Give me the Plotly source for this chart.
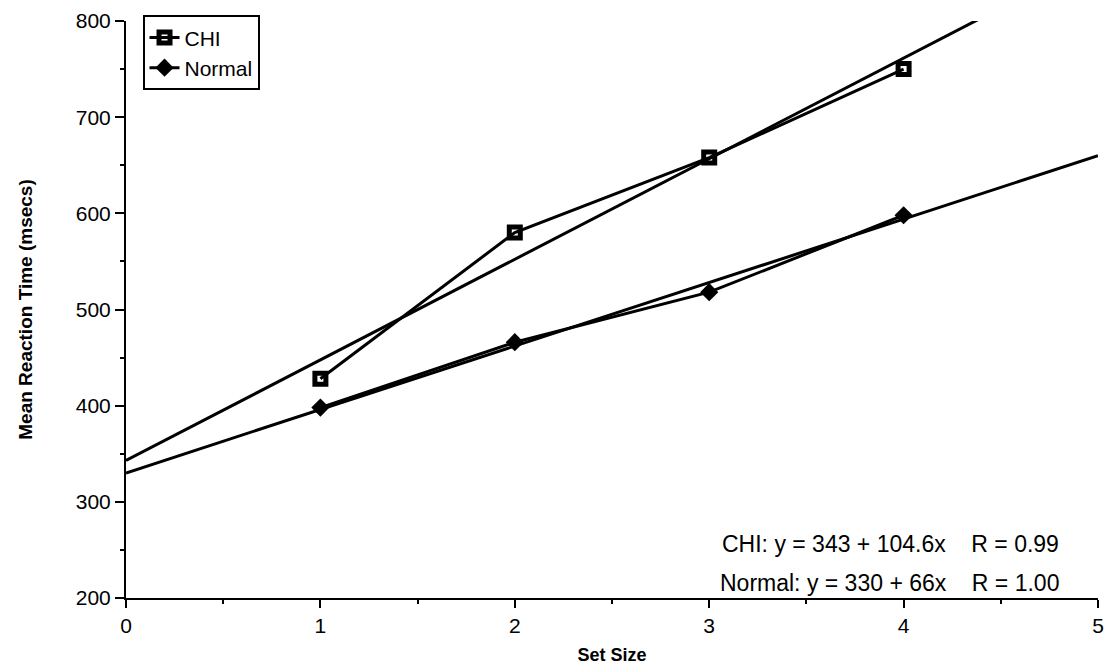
import numpy as np
import plotly.graph_objects as go

set_size = [1, 2, 3, 4]
chi_rt = [428, 580, 658, 750]
normal_rt = [398, 466, 518, 598]

series_names = ["CHI", "Normal"]
fit_intercepts = [343, 330]
fit_slopes = [104.6, 66]
fit_r = ["0.99", "1.00"]

x_ticks = [0, 1, 2, 3, 4, 5]
y_ticks = [200, 300, 400, 500, 600, 700, 800]

FONT = "Liberation Sans, Arial, Helvetica, sans-serif"

fig = go.Figure()

fit_x = np.array([0.0, 5.0])
for b0, b1 in zip(fit_intercepts, fit_slopes):
    fig.add_trace(go.Scatter(
        x=fit_x, y=b0 + b1 * fit_x, mode="lines",
        line=dict(color="black", width=3), showlegend=False, hoverinfo="skip"))

fig.add_trace(go.Scatter(
    x=set_size, y=chi_rt, mode="lines+markers", name=series_names[0],
    line=dict(color="black", width=3),
    marker=dict(symbol="square-open", size=11, color="black", line=dict(width=5, color="black"))))
fig.add_trace(go.Scatter(
    x=set_size, y=normal_rt, mode="lines+markers", name=series_names[1],
    line=dict(color="black", width=3),
    marker=dict(symbol="diamond", size=14, color="black")))

for i, (name, b0, b1, r) in enumerate(zip(series_names, fit_intercepts, fit_slopes, fit_r)):
    b1s = f"{b1:g}"
    fig.add_annotation(
        xref="paper", yref="paper", x=0.962, y=[0.094, 0.026][i],
        xanchor="right", yanchor="middle", showarrow=False,
        text=f"{name}: y = {b0} + {b1s}x\u00a0\u00a0\u00a0\u00a0R = {r}",
        font=dict(family=FONT, size=23, color="black"))

fig.update_layout(
    width=1111, height=669,
    margin=dict(l=126, r=7, t=21, b=71),
    paper_bgcolor="white", plot_bgcolor="white",
    font=dict(family=FONT, size=20, color="black"),
    legend=dict(x=0.017, y=1.01, xanchor="left", yanchor="top",
                bordercolor="black", borderwidth=2, bgcolor="white",
                font=dict(family=FONT, size=21, color="black"),
                itemwidth=30, tracegroupgap=0),
    xaxis=dict(range=[0, 5], tickvals=x_ticks, showgrid=False, zeroline=False,
               showline=True, linecolor="black", linewidth=2,
               ticks="outside", ticklen=8, tickwidth=2, tickcolor="black",
               minor=dict(dtick=0.5, ticks="outside", ticklen=4, tickwidth=2, tickcolor="black"),
               tickfont=dict(family=FONT, size=21, color="black"),
               title=dict(text="<b>Set Size</b>", font=dict(family=FONT, size=18, color="black"), standoff=12)),
    yaxis=dict(range=[200, 800], tickvals=y_ticks, showgrid=False, zeroline=False,
               showline=True, linecolor="black", linewidth=2,
               ticks="outside", ticklen=9, tickwidth=2, tickcolor="black",
               minor=dict(dtick=50, ticks="outside", ticklen=4, tickwidth=2, tickcolor="black"),
               tickfont=dict(family=FONT, size=21, color="black"),
               title=dict(text="<b>Mean Reaction Time (msecs)</b>", font=dict(family=FONT, size=19, color="black"), standoff=38)),
)

fig.write_html("out.html")
